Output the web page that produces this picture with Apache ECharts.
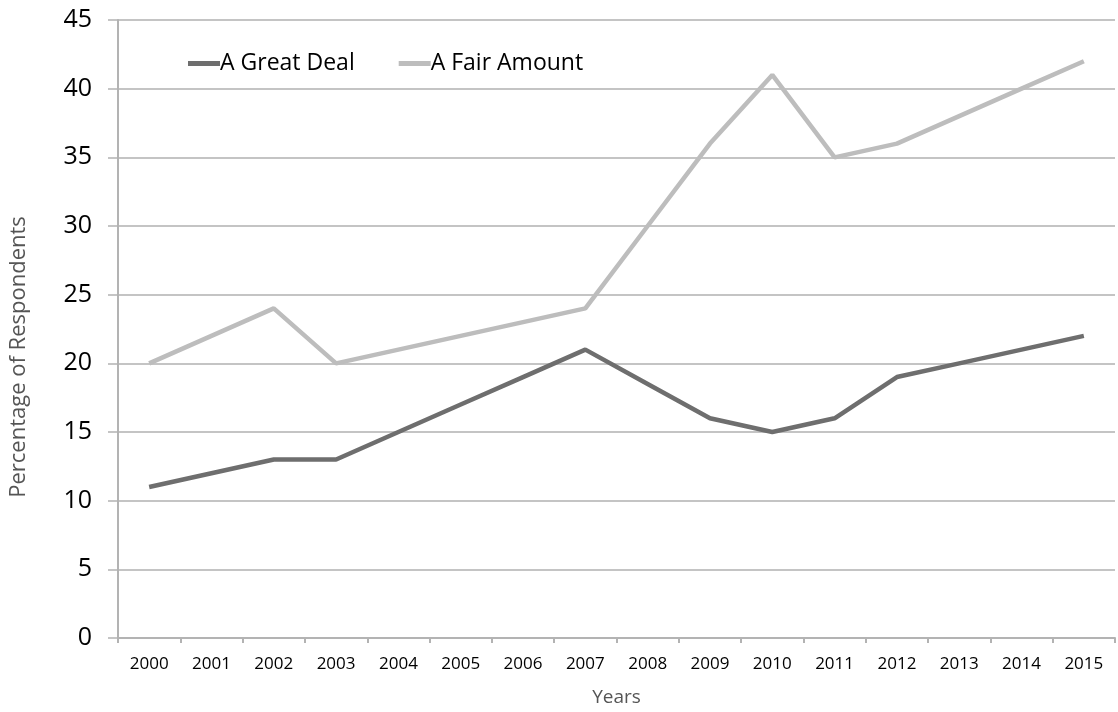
<!DOCTYPE html>
<html>
<head>
<meta charset="utf-8">
<script src="https://cdn.jsdelivr.net/npm/echarts@6/dist/echarts.min.js"></script>
<style>
  html, body { margin: 0; padding: 0; background: #fff; }
  #chart { width: 1118px; height: 712px; }
</style>
</head>
<body>
<div id="chart"></div>
<script>
// chart data
const years = ['2000', '2001', '2002', '2003', '2004', '2005', '2006', '2007',
  '2008', '2009', '2010', '2011', '2012', '2013', '2014', '2015']
const greatDeal = [11, 12, 13, 13, 15, 17, 19, 21, 18.5, 16, 15, 16, 19, 20, 21, 22]
const fairAmount = [20, 22, 24, 20, 21, 22, 23, 24, 30, 36, 41, 35, 36, 38, 40, 42]
const seriesNames = ['A Great Deal', 'A Fair Amount']

const font = '"Open Sans", "Liberation Sans", sans-serif'
const chart = echarts.init(document.getElementById('chart'))

chart.setOption({
  animation: false,
  textStyle: { fontFamily: font },
  legend: {
    data: seriesNames,
    left: 183,
    top: 47,
    itemWidth: 32,
    itemHeight: 5,
    itemGap: 44,
    icon: 'rect',
    textStyle: { fontSize: 23, color: '#000', fontFamily: font, padding: [0, 0, 0, -5] }
  },
  grid: {
    left: 117,
    right: 3,
    top: 20,
    bottom: 56
  },
  xAxis: {
    type: 'category',
    data: years,
    boundaryGap: true,
    name: 'Years',
    nameLocation: 'middle',
    nameGap: 50,
    nameTextStyle: { fontSize: 19, color: '#555', fontFamily: font },
    axisLine: { lineStyle: { color: '#b3b3b3', width: 2 } },
    axisTick: { show: true, length: 5, lineStyle: { color: '#b3b3b3', width: 2 } },
    axisLabel: { fontSize: 17, color: '#000', margin: 18, fontFamily: font }
  },
  yAxis: {
    type: 'value',
    min: 0,
    max: 45,
    interval: 5,
    name: 'Percentage of Respondents',
    nameLocation: 'middle',
    nameGap: 88,
    nameTextStyle: { fontSize: 22, color: '#555', fontFamily: font, padding: [0, 56, 0, 0] },
    axisLine: { show: true, lineStyle: { color: '#b3b3b3', width: 2 } },
    axisTick: { show: true, length: 10, lineStyle: { color: '#b3b3b3', width: 1.5 } },
    axisLabel: { fontSize: 25, color: '#000', margin: 26, fontFamily: font },
    splitLine: { lineStyle: { color: '#b0b0b0', width: 1.5 } }
  },
  series: [
    {
      name: seriesNames[0],
      type: 'line',
      data: greatDeal,
      symbol: 'none',
      color: '#6e6e6e',
      lineStyle: { width: 4.5, color: '#6e6e6e' }
    },
    {
      name: seriesNames[1],
      type: 'line',
      data: fairAmount,
      symbol: 'none',
      color: '#bdbdbd',
      lineStyle: { width: 4.5, color: '#bdbdbd' }
    }
  ]
})
</script>
</body>
</html>
